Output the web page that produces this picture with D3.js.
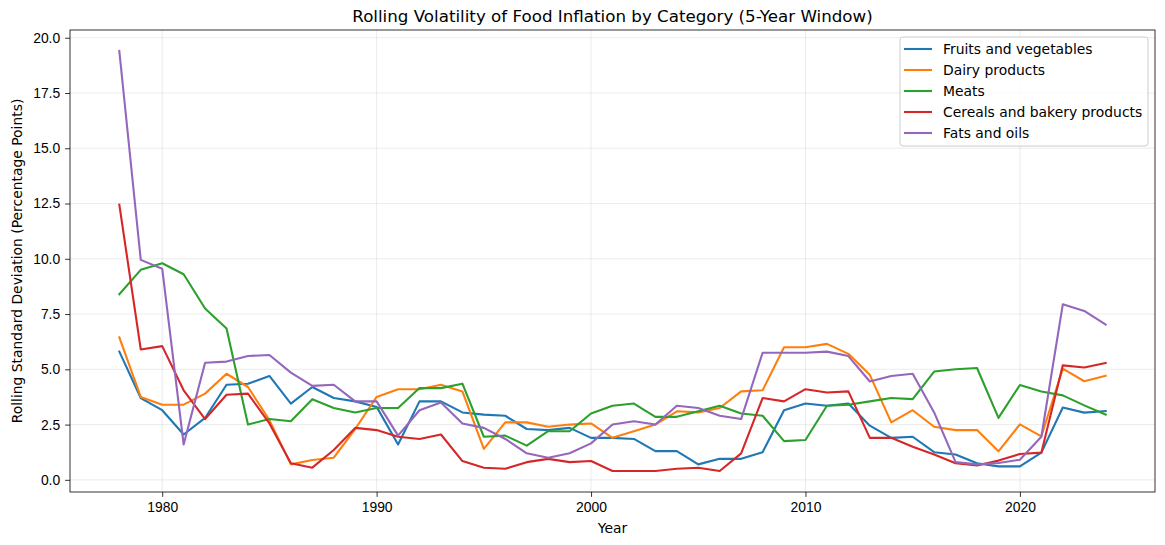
<!DOCTYPE html>
<html>
<head>
<meta charset="utf-8">
<script src="https://cdn.jsdelivr.net/npm/d3@7"></script>
<style>
  body { margin: 0; background: #fff; }
  svg { font-family: "DejaVu Sans", sans-serif; }
  .axis text { font-size: 13.9px; fill: #000; }
  .axis path, .axis line { stroke: #000; stroke-width: 0.8px; }
  .grid line { stroke: #b0b0b0; stroke-opacity: 0.3; stroke-width: 0.8px; }
  .series { fill: none; stroke-width: 2.1px; stroke-linejoin: round; stroke-linecap: square; }
</style>
</head>
<body>
<svg width="1165" height="545"></svg>
<script>
const years = d3.range(1978, 2025);

const fruitsVeg = [5.8, 3.7, 3.15, 2.05, 2.8, 4.3, 4.35, 4.7, 3.45, 4.2, 3.7, 3.55, 3.3, 1.6, 3.55, 3.55, 3.05, 2.95, 2.9, 2.3, 2.25, 2.35, 1.9, 1.9, 1.85, 1.3, 1.3, 0.7, 0.95, 0.95, 1.25, 3.15, 3.45, 3.35, 3.45, 2.45, 1.9, 1.95, 1.25, 1.15, 0.75, 0.61, 0.61, 1.23, 3.27, 3.04, 3.11];
const dairy = [6.45, 3.75, 3.4, 3.4, 3.9, 4.8, 4.2, 2.7, 0.7, 0.9, 1.0, 2.3, 3.75, 4.1, 4.1, 4.3, 4.0, 1.4, 2.6, 2.6, 2.4, 2.5, 2.55, 1.9, 2.2, 2.5, 3.1, 3.05, 3.25, 4.0, 4.05, 6.0, 6.0, 6.15, 5.7, 4.75, 2.6, 3.15, 2.4, 2.25, 2.25, 1.29, 2.51, 1.97, 5.03, 4.46, 4.71];
const meats = [8.4, 9.5, 9.8, 9.3, 7.75, 6.85, 2.5, 2.75, 2.65, 3.65, 3.25, 3.05, 3.25, 3.25, 4.15, 4.15, 4.35, 1.95, 2.0, 1.55, 2.2, 2.2, 3.0, 3.35, 3.45, 2.85, 2.85, 3.1, 3.35, 3.0, 2.9, 1.75, 1.8, 3.35, 3.4, 3.55, 3.7, 3.65, 4.9, 5.0, 5.06, 2.8, 4.29, 4.0, 3.82, 3.37, 2.95];
const cereals = [12.45, 5.9, 6.05, 4.05, 2.75, 3.85, 3.9, 2.55, 0.75, 0.55, 1.35, 2.35, 2.25, 1.95, 1.85, 2.05, 0.85, 0.55, 0.5, 0.8, 0.95, 0.8, 0.85, 0.4, 0.4, 0.4, 0.5, 0.55, 0.4, 1.2, 3.7, 3.55, 4.1, 3.95, 4.0, 1.9, 1.9, 1.5, 1.15, 0.75, 0.65, 0.87, 1.17, 1.23, 5.18, 5.08, 5.29];
const fatsOils = [19.4, 9.95, 9.55, 1.6, 5.3, 5.35, 5.6, 5.65, 4.85, 4.25, 4.3, 3.55, 3.55, 2.0, 3.15, 3.5, 2.55, 2.35, 1.85, 1.2, 1.0, 1.2, 1.65, 2.5, 2.65, 2.5, 3.35, 3.25, 2.9, 2.75, 5.75, 5.75, 5.75, 5.8, 5.6, 4.45, 4.7, 4.8, 3.05, 0.8, 0.7, 0.76, 0.91, 1.95, 7.94, 7.64, 7.02];

const seriesNames = ["Fruits and vegetables", "Dairy products", "Meats", "Cereals and bakery products", "Fats and oils"];
const seriesValues = [fruitsVeg, dairy, meats, cereals, fatsOils];
const colors = ["#1f77b4", "#ff7f0e", "#2ca02c", "#d62728", "#9467bd"];

const xTicks = [1980, 1990, 2000, 2010, 2020];
const yTicks = [0, 2.5, 5, 7.5, 10, 12.5, 15, 17.5, 20];

const svg = d3.select("svg");
const plot = { left: 70, top: 30, right: 1155, bottom: 492 };

// matplotlib style 5% padding
function padded(ext) {
  const p = (ext[1] - ext[0]) * 0.05;
  return [ext[0] - p, ext[1] + p];
}
const allVals = [].concat(...seriesValues);

const xScale = d3.scaleLinear().domain(padded(d3.extent(years))).range([plot.left, plot.right]);
const yScale = d3.scaleLinear().domain(padded(d3.extent(allVals))).range([plot.bottom, plot.top]);

// grid
svg.append("g").attr("class", "grid")
  .selectAll("line").data(xTicks).enter().append("line")
  .attr("x1", (d) => xScale(d)).attr("x2", (d) => xScale(d))
  .attr("y1", plot.top).attr("y2", plot.bottom);
svg.append("g").attr("class", "grid")
  .selectAll("line").data(yTicks).enter().append("line")
  .attr("y1", (d) => yScale(d)).attr("y2", (d) => yScale(d))
  .attr("x1", plot.left).attr("x2", plot.right);

// lines
const fig = svg.append("g");
seriesValues.forEach((vals, i) => {
  const line = d3.line()
    .x((d, j) => xScale(years[j]))
    .y((d) => yScale(d));
  fig.append("path").datum(vals)
    .attr("class", "series")
    .attr("stroke", colors[i])
    .attr("d", line);
});

// axes
svg.append("g").attr("class", "axis")
  .attr("transform", `translate(0,${plot.bottom})`)
  .call(d3.axisBottom(xScale).tickValues(xTicks).tickFormat(d3.format("d")).tickSize(4.9).tickPadding(4.9))
  .call((g) => g.select(".domain").remove());
svg.append("g").attr("class", "axis")
  .attr("transform", `translate(${plot.left},0)`)
  .call(d3.axisLeft(yScale).tickValues(yTicks).tickFormat(d3.format(".1f")).tickSize(4.9).tickPadding(4.9))
  .call((g) => g.select(".domain").remove());

// frame
svg.append("rect")
  .attr("x", plot.left).attr("y", plot.top)
  .attr("width", plot.right - plot.left).attr("height", plot.bottom - plot.top)
  .attr("fill", "none").attr("stroke", "#000").attr("stroke-width", 0.8);

// labels
svg.append("text")
  .attr("x", (plot.left + plot.right) / 2).attr("y", 22)
  .attr("text-anchor", "middle").attr("font-size", "16.7px")
  .text("Rolling Volatility of Food Inflation by Category (5-Year Window)");
svg.append("text")
  .attr("x", (plot.left + plot.right) / 2).attr("y", 533)
  .attr("text-anchor", "middle").attr("font-size", "13.9px")
  .text("Year");
svg.append("text")
  .attr("transform", `translate(22,${(plot.top + plot.bottom) / 2}) rotate(-90)`)
  .attr("text-anchor", "middle").attr("font-size", "13.9px")
  .text("Rolling Standard Deviation (Percentage Points)");

// legend
const legendBox = svg.append("g").attr("transform", "translate(900,37)");
legendBox.append("rect")
  .attr("width", 248).attr("height", 109).attr("rx", 3)
  .attr("fill", "#fff").attr("fill-opacity", 0.8)
  .attr("stroke", "#cccccc");
const legend = legendBox.selectAll(".item")
  .data(seriesNames).enter().append("g")
  .attr("transform", (d, i) => `translate(0,${12 + i * 21})`);
legend.append("line")
  .attr("x1", 4).attr("x2", 32)
  .attr("stroke", (d, i) => colors[i]).attr("stroke-width", 2.1);
legend.append("text")
  .text((d) => d)
  .attr("x", 43).attr("dy", "0.35em")
  .attr("font-size", "13.9px");
</script>
</body>
</html>
